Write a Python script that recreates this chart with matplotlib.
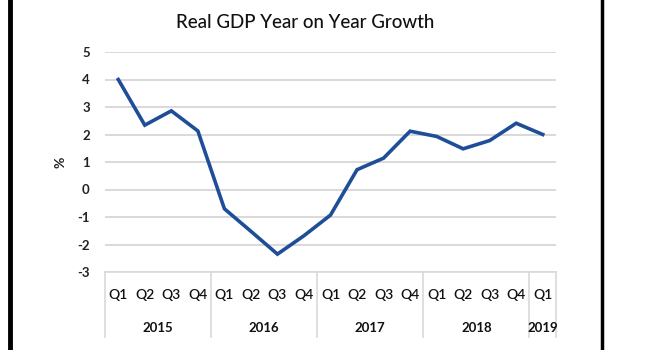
import matplotlib
matplotlib.use("Agg")
import matplotlib.pyplot as plt
from matplotlib.lines import Line2D

plt.rcParams['font.family'] = ['Lato', 'DejaVu Sans']

quarters = ["Q1", "Q2", "Q3", "Q4"] * 4 + ["Q1"]
years = ["2015", "2016", "2017", "2018", "2019"]
year_counts = [4, 4, 4, 4, 1]
growth = [4.0, 2.34, 2.86, 2.13, -0.70, -1.52, -2.35, -1.68, -0.93,
          0.72, 1.14, 2.12, 1.93, 1.48, 1.78, 2.41, 2.0]
yticks = [-3, -2, -1, 0, 1, 2, 3, 4, 5]

W, H = 650, 350
fig = plt.figure(figsize=(6.5, 3.5), dpi=100)
ax = fig.add_axes([105 / W, 1 - 272 / H, (556 - 105) / W, 220 / H])

x = list(range(len(growth)))
ax.plot(x, growth, color="#1f4e98", lw=2.6, solid_joinstyle="miter", zorder=3)

ax.set_xlim(-0.5, len(growth) - 0.5)
ax.set_ylim(-3, 5)
ax.set_yticks(yticks)
ax.set_yticklabels([str(v) for v in yticks], fontsize=9.5, fontweight="bold", color="#222222")
ax.tick_params(axis="y", length=0, pad=11)
ax.set_xticks([])
ax.grid(axis="y", color="#d9d9d9", lw=1.4)
ax.set_axisbelow(True)
for s in ["top", "right", "left"]:
    ax.spines[s].set_visible(False)
ax.spines["bottom"].set_color("#d9d9d9")
ax.spines["bottom"].set_linewidth(1.2)

ax.set_ylabel("%", fontsize=10, fontweight="bold", color="#222222", labelpad=8)

tr = ax.get_xaxis_transform()
# quarter labels
for i, q in enumerate(quarters):
    ax.text(i, -0.105, q, transform=tr, ha="center", va="center", fontsize=10,
            fontweight="semibold", color="#111111")
# year labels and separators
start = 0
bounds = [-0.5]
for y, c in zip(years, year_counts):
    ax.text(start + (c - 1) / 2, -0.255, y, transform=tr, ha="center", va="center",
            fontsize=9.5, fontweight="bold", color="#111111")
    start += c
    bounds.append(start - 0.5)
for b in bounds:
    ax.add_line(Line2D([b, b], [0, -0.295], transform=tr, color="#d9d9d9", lw=1.2, clip_on=False))

fig.text(305 / W, 1 - 22 / H, "Real GDP Year on Year Growth", ha="center", va="center",
         fontsize=13.5, fontweight="medium", color="#111111")

# black side borders
fig.add_artist(Line2D([10 / W, 10 / W], [0, 1], transform=fig.transFigure, color="black", lw=3.5))
fig.add_artist(Line2D([602 / W, 602 / W], [0, 1], transform=fig.transFigure, color="black", lw=2.5))

fig.savefig("out.png", dpi=100)
